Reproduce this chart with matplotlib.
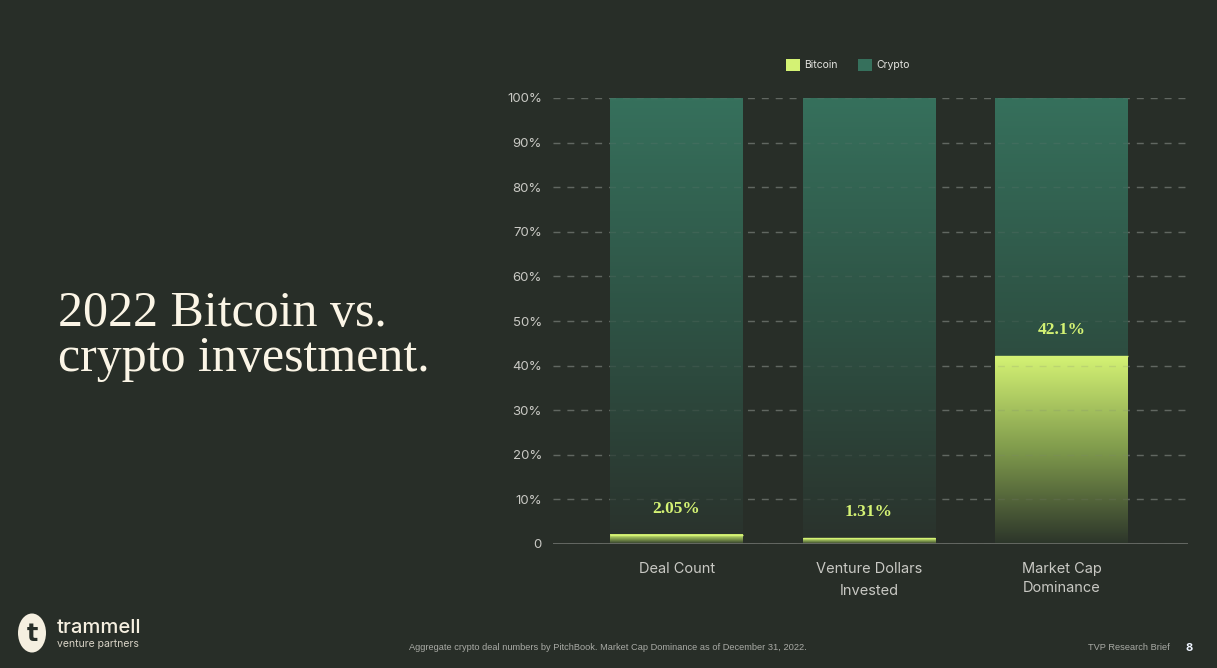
import numpy as np
import matplotlib
matplotlib.use("Agg")
import matplotlib.pyplot as plt
from matplotlib.colors import LinearSegmentedColormap
from matplotlib.patches import Patch, Ellipse

# data
categories = ["Deal Count", "Venture Dollars\nInvested", "Market Cap\nDominance"]
bitcoin = [2.05, 1.31, 42.1]
value_labels = ["2.05%", "1.31%", "42.1%"]
crypto_total = [100, 100, 100]
yticks = [0, 10, 20, 30, 40, 50, 60, 70, 80, 90, 100]
ytick_labels = ["0"] + [f"{v}%" for v in yticks[1:]]

BG = "#282e28"
LIME = "#d4f274"
GREEN = "#36705c"
TICK = "#c9c9c4"
SANS = ["Inter", "DejaVu Sans"]
SERIF = ["Liberation Serif", "DejaVu Serif"]
NARROW = ["Liberation Sans Narrow", "Liberation Sans"]

plt.rcParams["font.family"] = SANS

fig = plt.figure(figsize=(12.17, 6.68), dpi=100, facecolor=BG)
W, H = 1217, 668
ax = fig.add_axes([553 / W, 1 - 544 / H, (1188 - 553) / W, (544 - 98) / H])
ax.set_facecolor(BG)

x = np.arange(len(categories))
width = 0.69

crypto_cmap = LinearSegmentedColormap.from_list("crypto", ["#2a322c", "#2e5244", GREEN])
btc_cmap = LinearSegmentedColormap.from_list("btc", ["#2c352a", "#7f9a4c", LIME])

crypto_h = [t - b for t, b in zip(crypto_total, bitcoin)]
bars_c = ax.bar(x, crypto_h, width=width, bottom=bitcoin, color="none", zorder=3)
bars_b = ax.bar(x, bitcoin, width=width, color="none", zorder=3)

# gradient fills
for bar in bars_c:
    x0, y0, w, h = bar.get_x(), bar.get_y(), bar.get_width(), bar.get_height()
    grad = np.linspace(y0 / 100, (y0 + h) / 100, 256).reshape(-1, 1)
    ax.imshow(grad, extent=[x0, x0 + w, y0, y0 + h], origin="lower", cmap=crypto_cmap,
              vmin=0, vmax=1, aspect="auto", zorder=2, interpolation="bilinear")
for bar in bars_b:
    x0, y0, w, h = bar.get_x(), bar.get_y(), bar.get_width(), bar.get_height()
    grad = np.linspace(0, 1, 256).reshape(-1, 1)
    ax.imshow(grad, extent=[x0, x0 + w, y0, y0 + h], origin="lower", cmap=btc_cmap,
              vmin=0, vmax=1, aspect="auto", zorder=2, interpolation="bilinear")
    ax.plot([x0, x0 + w], [y0 + h, y0 + h], color=LIME, lw=1, zorder=4, solid_capstyle="butt")

for xi, b, lab in zip(x, bitcoin, value_labels):
    ax.annotate(lab, (xi, b), xytext=(0, 26), textcoords="offset pixels", ha="center", va="center",
                fontsize=12.5, color=LIME, family=SERIF, weight="bold", zorder=5)

ax.set_xlim(-0.642, 2.657)
ax.set_ylim(0, 100)
ax.set_yticks(yticks)
ax.set_yticklabels(ytick_labels)
ax.set_xticks(x)
ax.set_xticklabels(categories)
ax.tick_params(axis="y", length=0, pad=8, labelsize=9.5, labelcolor=TICK)
ax.tick_params(axis="x", length=0, pad=13, labelsize=10.5, labelcolor=TICK)
xl = ax.get_xticklabels()
xl[1].set_linespacing(1.75)
xl[2].set_linespacing(1.45)

# grid below the bars, plus a faint copy that shows through them
ax.grid(axis="y", color="#5c625c", linestyle=(0, (5, 5)), lw=1, zorder=1)
for yv in yticks[1:]:
    ax.axhline(yv, color="#7a807a", linestyle=(0, (5, 5)), lw=1, alpha=0.18, zorder=4)
for s in ax.spines.values():
    s.set_visible(False)
ax.axhline(0, color="#6e716c", lw=1.2, zorder=4)

# legend
handles = [Patch(facecolor=LIME), Patch(facecolor=GREEN)]
fig.legend(handles, ["Bitcoin", "Crypto"], loc="center", bbox_to_anchor=(848 / W, 1 - 65 / H),
           ncol=2, frameon=False, fontsize=7.5, handlelength=1.35, handleheight=1.35,
           columnspacing=2.0, handletextpad=0.4, labelcolor="#e4e4e0")

# title
fig.text(58 / W, 1 - 326 / H, "2022 Bitcoin vs.", fontsize=36, color="#fbf5e6",
         family=SERIF, ha="left", va="baseline")
fig.text(58 / W, 1 - 371 / H, "crypto investment.", fontsize=36, color="#fbf5e6",
         family=SERIF, ha="left", va="baseline")

# footer
fig.text(409 / W, 1 - 648 / H,
         "Aggregate crypto deal numbers by PitchBook. Market Cap Dominance as of December 31, 2022.",
         fontsize=6.7, color="#a8aaa5", family=NARROW, ha="left", va="center")
fig.text(1088 / W, 1 - 648 / H, "TVP Research Brief", fontsize=6.7, color="#a8aaa5",
         family=NARROW, ha="left", va="center")
fig.text(1186 / W, 1 - 648 / H, "8", fontsize=8, color="#eef4ff", weight="bold",
         ha="left", va="center")

# logo
fig.patches.append(Ellipse((32 / W, 1 - 633 / H), 28 / W, 39 / H, transform=fig.transFigure,
                           facecolor="#f5efe0", edgecolor="none"))
fig.text(32 / W, 1 - 634 / H, "t", fontsize=17, weight="bold", color=BG, ha="center",
         va="center", family=["DejaVu Sans"])
fig.text(57 / W, 1 - 628 / H, "trammell", fontsize=14.5, color="#f5efe0", ha="left",
         va="center", weight="medium")
fig.text(57 / W, 1 - 644 / H, "venture partners", fontsize=7.5, color="#d8d3c6", ha="left",
         va="center")

fig.savefig("out.png", dpi=100, facecolor=BG)
